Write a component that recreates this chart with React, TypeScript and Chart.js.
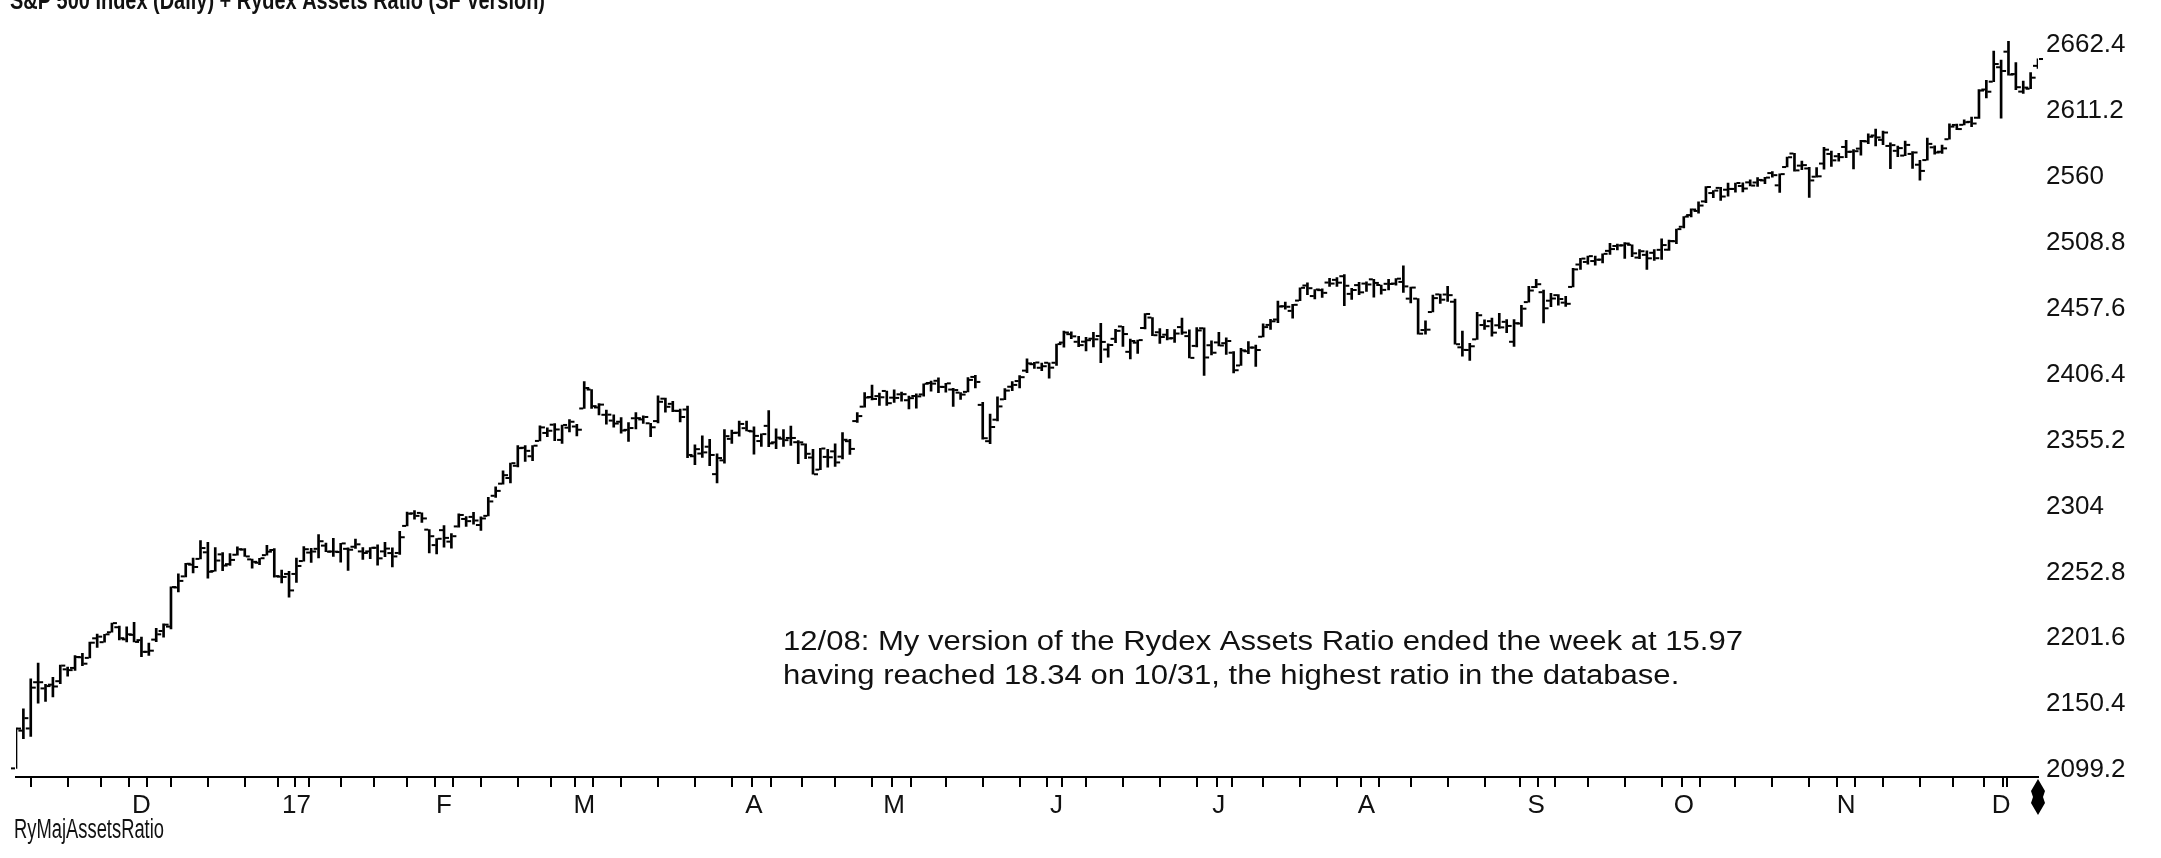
import React, { useEffect, useRef } from 'react';
import { Chart, registerables } from 'chart.js';

Chart.register(...registerables);

const dates: string[] = [
  '2016-11-07','2016-11-08','2016-11-09','2016-11-10','2016-11-11','2016-11-14','2016-11-15','2016-11-16','2016-11-17','2016-11-18','2016-11-21','2016-11-22','2016-11-23','2016-11-25','2016-11-28','2016-11-29','2016-11-30',
  '2016-12-01','2016-12-02','2016-12-05','2016-12-06','2016-12-07','2016-12-08','2016-12-09','2016-12-12','2016-12-13','2016-12-14','2016-12-15','2016-12-16','2016-12-19','2016-12-20','2016-12-21','2016-12-22','2016-12-23','2016-12-27','2016-12-28','2016-12-29','2016-12-30',
  '2017-01-03','2017-01-04','2017-01-05','2017-01-06','2017-01-09','2017-01-10','2017-01-11','2017-01-12','2017-01-13','2017-01-17','2017-01-18','2017-01-19','2017-01-20','2017-01-23','2017-01-24','2017-01-25','2017-01-26','2017-01-27','2017-01-30','2017-01-31',
  '2017-02-01','2017-02-02','2017-02-03','2017-02-06','2017-02-07','2017-02-08','2017-02-09','2017-02-10','2017-02-13','2017-02-14','2017-02-15','2017-02-16','2017-02-17','2017-02-21','2017-02-22','2017-02-23','2017-02-24','2017-02-27','2017-02-28',
  '2017-03-01','2017-03-02','2017-03-03','2017-03-06','2017-03-07','2017-03-08','2017-03-09','2017-03-10','2017-03-13','2017-03-14','2017-03-15','2017-03-16','2017-03-17','2017-03-20','2017-03-21','2017-03-22','2017-03-23','2017-03-24','2017-03-27','2017-03-28','2017-03-29','2017-03-30','2017-03-31',
  '2017-04-03','2017-04-04','2017-04-05','2017-04-06','2017-04-07','2017-04-10','2017-04-11','2017-04-12','2017-04-13','2017-04-17','2017-04-18','2017-04-19','2017-04-20','2017-04-21','2017-04-24','2017-04-25','2017-04-26','2017-04-27','2017-04-28',
  '2017-05-01','2017-05-02','2017-05-03','2017-05-04','2017-05-05','2017-05-08','2017-05-09','2017-05-10','2017-05-11','2017-05-12','2017-05-15','2017-05-16','2017-05-17','2017-05-18','2017-05-19','2017-05-22','2017-05-23','2017-05-24','2017-05-25','2017-05-26','2017-05-30','2017-05-31',
  '2017-06-01','2017-06-02','2017-06-05','2017-06-06','2017-06-07','2017-06-08','2017-06-09','2017-06-12','2017-06-13','2017-06-14','2017-06-15','2017-06-16','2017-06-19','2017-06-20','2017-06-21','2017-06-22','2017-06-23','2017-06-26','2017-06-27','2017-06-28','2017-06-29','2017-06-30',
  '2017-07-03','2017-07-05','2017-07-06','2017-07-07','2017-07-10','2017-07-11','2017-07-12','2017-07-13','2017-07-14','2017-07-17','2017-07-18','2017-07-19','2017-07-20','2017-07-21','2017-07-24','2017-07-25','2017-07-26','2017-07-27','2017-07-28','2017-07-31',
  '2017-08-01','2017-08-02','2017-08-03','2017-08-04','2017-08-07','2017-08-08','2017-08-09','2017-08-10','2017-08-11','2017-08-14','2017-08-15','2017-08-16','2017-08-17','2017-08-18','2017-08-21','2017-08-22','2017-08-23','2017-08-24','2017-08-25','2017-08-28','2017-08-29','2017-08-30','2017-08-31',
  '2017-09-01','2017-09-05','2017-09-06','2017-09-07','2017-09-08','2017-09-11','2017-09-12','2017-09-13','2017-09-14','2017-09-15','2017-09-18','2017-09-19','2017-09-20','2017-09-21','2017-09-22','2017-09-25','2017-09-26','2017-09-27','2017-09-28','2017-09-29',
  '2017-10-02','2017-10-03','2017-10-04','2017-10-05','2017-10-06','2017-10-09','2017-10-10','2017-10-11','2017-10-12','2017-10-13','2017-10-16','2017-10-17','2017-10-18','2017-10-19','2017-10-20','2017-10-23','2017-10-24','2017-10-25','2017-10-26','2017-10-27','2017-10-30','2017-10-31',
  '2017-11-01','2017-11-02','2017-11-03','2017-11-06','2017-11-07','2017-11-08','2017-11-09','2017-11-10','2017-11-13','2017-11-14','2017-11-15','2017-11-16','2017-11-17','2017-11-20','2017-11-21','2017-11-22','2017-11-24','2017-11-27','2017-11-28','2017-11-29','2017-11-30',
  '2017-12-01','2017-12-04','2017-12-05','2017-12-06','2017-12-07','2017-12-08',
];

const opens: number[] = [
  2100.6,2129.9,2131.6,2167.5,2162.7,2165.6,2168.3,2177.5,2178.6,2186.9,2186.4,2201.6,2198.6,2206.3,2210.2,2200.8,2204.3,
  2200.2,2191.1,2200.6,2207.3,2210.7,2241.1,2249.7,2258.8,2263.3,2268.4,2253.8,2266.8,2259.2,2266.5,2270.5,2262.9,2260.3,2266.2,2270.2,2249.5,2251.6,
  2251.6,2261.6,2268.2,2271.1,2273.6,2269.0,2268.6,2271.1,2272.7,2269.1,2269.1,2271.9,2269.1,2267.8,2267.9,2288.9,2298.6,2299.0,2286.0,2274.0,
  2285.6,2276.7,2288.5,2294.3,2295.9,2289.6,2296.7,2312.3,2321.7,2326.1,2335.6,2349.6,2343.0,2354.9,2361.1,2367.5,2355.7,2365.2,2366.1,
  2380.1,2394.8,2380.9,2375.2,2370.7,2369.8,2363.5,2372.5,2371.6,2368.6,2370.3,2387.7,2383.7,2378.2,2379.3,2343.0,2345.1,2350.4,2329.1,2339.8,2356.5,2361.3,2364.8,
  2362.3,2354.8,2366.6,2353.8,2356.6,2357.2,2353.9,2352.2,2342.0,2332.6,2342.5,2346.8,2342.7,2354.7,2370.3,2381.5,2389.0,2389.7,2393.7,
  2388.5,2391.1,2386.5,2389.8,2391.0,2399.9,2401.6,2396.8,2394.8,2392.4,2393.0,2404.6,2382.9,2354.7,2371.4,2387.2,2397.0,2401.4,2409.5,2414.5,2411.7,2415.6,
  2415.6,2431.3,2437.8,2431.9,2432.0,2434.3,2436.4,2425.9,2434.2,2443.8,2424.1,2431.2,2442.6,2450.7,2439.3,2437.4,2434.7,2443.3,2436.3,2428.7,2442.4,2429.2,
  2431.4,2430.8,2423.4,2413.5,2424.5,2427.4,2435.8,2445.0,2449.2,2459.5,2455.9,2463.9,2475.6,2467.4,2472.0,2477.9,2480.0,2482.8,2469.1,2475.9,
  2477.1,2480.4,2476.0,2476.9,2477.1,2478.4,2465.4,2465.4,2441.0,2455.0,2468.7,2468.6,2463.0,2427.6,2425.5,2433.8,2444.9,2447.9,2444.7,2447.4,2431.9,2446.1,2462.7,
  2474.4,2470.4,2463.8,2468.1,2462.3,2474.5,2491.9,2493.9,2494.6,2495.7,2502.5,2506.3,2506.8,2507.2,2497.3,2499.4,2501.0,2503.3,2503.4,2510.0,
  2521.2,2530.3,2533.5,2540.9,2547.4,2551.4,2550.0,2550.6,2552.9,2555.7,2555.6,2557.2,2562.9,2553.4,2567.6,2578.1,2568.7,2566.5,2560.1,2570.3,2577.8,2576.0,
  2583.2,2579.5,2581.9,2587.5,2592.1,2588.7,2584.0,2580.2,2576.5,2577.8,2569.4,2573.0,2582.9,2579.5,2589.2,2600.3,2600.4,2602.7,2605.9,2627.8,2633.9,
  2645.1,2657.2,2639.8,2626.2,2628.4,2646.2,
];

const highs: number[] = [
  2132.0,2146.9,2170.1,2182.3,2165.9,2171.4,2180.8,2179.2,2188.1,2189.9,2198.7,2204.8,2204.7,2213.4,2211.1,2210.5,2214.1,
  2202.6,2197.9,2209.4,2212.8,2241.6,2251.7,2259.8,2264.0,2277.5,2276.2,2272.1,2268.1,2267.5,2272.6,2271.2,2263.2,2263.8,2273.8,2271.3,2254.5,2253.6,
  2263.9,2272.8,2271.5,2282.1,2275.5,2279.3,2275.3,2271.8,2278.7,2272.1,2272.0,2274.3,2276.1,2271.8,2284.6,2299.6,2300.9,2299.0,2286.0,2279.1,
  2289.1,2283.0,2298.3,2296.2,2299.4,2295.9,2311.1,2319.2,2331.6,2337.6,2351.3,2351.3,2351.2,2366.7,2365.1,2368.3,2367.3,2371.5,2367.8,
  2401.0,2394.8,2383.9,2378.8,2375.1,2373.1,2369.1,2376.9,2374.4,2368.6,2390.0,2388.1,2385.7,2379.6,2381.9,2351.8,2358.9,2356.2,2344.9,2363.8,2363.4,2370.4,2370.4,
  2365.9,2360.5,2378.4,2364.2,2363.8,2366.4,2355.2,2352.7,2348.3,2349.1,2348.4,2352.6,2361.4,2356.2,2377.0,2392.5,2398.2,2392.1,2393.7,
  2394.5,2392.9,2389.8,2391.4,2399.3,2401.4,2403.9,2399.7,2395.7,2392.4,2404.1,2405.8,2384.9,2375.7,2389.1,2395.5,2400.9,2405.6,2418.7,2416.0,2415.3,2415.6,
  2430.1,2440.2,2439.6,2436.2,2435.3,2439.3,2446.2,2430.4,2441.5,2443.8,2434.0,2433.2,2453.8,2450.7,2442.2,2441.6,2441.4,2450.4,2441.2,2443.0,2442.7,2432.7,
  2439.2,2434.9,2424.3,2426.9,2432.0,2429.3,2445.8,2449.3,2463.5,2462.8,2460.9,2473.8,2477.6,2472.5,2473.1,2481.2,2481.7,2484.0,2473.5,2478.0,
  2478.5,2480.4,2476.0,2480.4,2481.0,2490.9,2474.4,2465.4,2448.1,2468.2,2468.9,2474.9,2465.0,2440.3,2430.6,2454.8,2448.9,2450.4,2454.0,2449.1,2449.2,2460.3,2475.0,
  2480.4,2472.0,2469.6,2468.6,2467.1,2489.0,2496.8,2498.4,2498.4,2500.2,2508.3,2507.8,2508.9,2507.2,2503.5,2502.5,2503.5,2511.8,2510.8,2519.4,
  2529.2,2535.1,2540.5,2552.5,2549.4,2551.8,2555.2,2555.2,2555.3,2557.7,2559.5,2559.7,2564.1,2562.4,2575.4,2578.3,2572.2,2567.4,2567.1,2583.0,2580.0,2578.3,
  2588.4,2581.1,2588.4,2593.4,2597.0,2595.5,2586.5,2583.8,2587.7,2579.7,2572.8,2590.1,2584.0,2584.6,2601.2,2600.9,2604.2,2606.4,2627.7,2634.9,2657.7,
  2650.6,2665.2,2648.7,2634.4,2641.0,2651.7,
];

const lows: number[] = [
  2100.6,2123.6,2125.4,2151.2,2152.5,2156.1,2166.4,2172.2,2176.6,2180.4,2186.4,2194.5,2198.6,2206.3,2200.4,2198.9,2198.8,
  2187.4,2188.4,2199.0,2202.5,2208.9,2237.6,2249.2,2252.4,2263.3,2248.4,2253.8,2254.2,2258.2,2266.2,2265.2,2256.1,2258.8,2266.2,2249.1,2244.6,2233.6,
  2245.1,2261.6,2260.5,2264.1,2268.8,2265.3,2260.8,2254.3,2271.5,2262.8,2263.4,2258.4,2265.0,2257.0,2266.7,2288.9,2294.1,2291.6,2268.0,2267.2,
  2272.4,2271.7,2287.9,2288.6,2290.2,2285.4,2296.6,2311.1,2321.4,2322.2,2334.8,2338.9,2339.6,2354.9,2358.3,2355.1,2352.9,2361.9,2358.7,
  2380.1,2380.2,2375.1,2368.0,2365.5,2361.0,2354.5,2364.2,2368.5,2358.2,2368.9,2377.2,2377.6,2369.7,2341.9,2336.5,2342.1,2335.7,2322.3,2337.6,2352.9,2358.6,2362.6,
  2344.7,2350.7,2350.5,2348.9,2350.7,2351.5,2337.3,2341.2,2329.0,2332.5,2334.5,2335.1,2340.9,2344.5,2369.2,2381.2,2386.8,2382.4,2382.4,
  2384.8,2385.8,2379.8,2380.4,2389.6,2393.6,2392.4,2392.8,2381.7,2387.2,2393.0,2396.1,2356.2,2352.7,2370.4,2386.9,2393.9,2396.1,2408.0,2411.3,2409.4,2403.6,
  2413.5,2427.7,2434.3,2428.1,2424.8,2427.9,2415.7,2420.0,2431.3,2428.3,2418.5,2422.9,2441.8,2436.6,2430.7,2433.3,2431.4,2437.6,2419.4,2428.0,2405.7,2421.6,
  2428.7,2422.1,2407.7,2413.5,2422.7,2412.8,2435.6,2441.4,2446.7,2457.2,2450.3,2463.9,2468.4,2465.1,2466.3,2474.9,2474.9,2459.9,2464.7,2468.5,
  2471.1,2466.5,2468.9,2472.1,2475.9,2470.3,2462.1,2437.8,2437.9,2455.0,2461.6,2463.2,2430.0,2420.7,2417.4,2433.7,2441.4,2436.2,2442.2,2439.0,2428.2,2443.8,2462.7,
  2473.9,2446.6,2459.2,2460.3,2459.4,2474.5,2488.1,2492.1,2491.4,2493.2,2499.8,2503.2,2496.7,2497.9,2496.5,2488.0,2495.1,2495.9,2502.9,2508.0,
  2520.4,2528.9,2531.8,2540.0,2543.8,2541.6,2544.9,2548.0,2548.3,2553.0,2552.6,2554.7,2559.7,2547.9,2567.6,2564.3,2565.6,2544.0,2559.8,2565.9,2568.1,2572.2,
  2574.9,2566.2,2576.8,2585.7,2584.1,2585.0,2566.3,2575.6,2576.5,2566.6,2557.4,2573.0,2577.6,2578.2,2589.2,2596.6,2600.4,2598.9,2605.4,2621.3,2633.9,
  2605.5,2639.0,2627.7,2624.8,2628.4,2644.1,
];

const closes: number[] = [
  2131.5,2139.6,2163.3,2167.5,2164.5,2164.2,2180.4,2176.9,2187.1,2181.9,2198.2,2202.9,2204.7,2213.4,2201.7,2204.7,2198.8,
  2191.1,2192.0,2204.7,2212.2,2241.4,2246.2,2259.5,2257.0,2271.7,2253.3,2262.0,2258.1,2262.5,2270.8,2265.2,2261.0,2263.8,2268.9,2249.9,2249.3,2238.8,
  2257.8,2270.8,2269.0,2277.0,2268.9,2268.9,2275.3,2270.4,2274.6,2267.9,2271.9,2263.7,2271.3,2265.2,2280.1,2298.4,2296.7,2294.7,2280.9,2278.9,
  2279.6,2280.9,2297.4,2292.6,2293.1,2294.7,2307.9,2316.1,2328.3,2337.6,2349.3,2347.2,2351.2,2365.4,2362.8,2363.8,2367.3,2369.8,2363.6,
  2396.0,2381.9,2383.1,2375.3,2368.4,2363.0,2364.9,2372.6,2373.5,2365.5,2385.3,2381.4,2378.3,2373.5,2344.0,2348.5,2346.0,2344.0,2341.6,2358.6,2361.1,2368.1,2362.7,
  2358.8,2360.2,2353.0,2357.5,2355.5,2357.2,2353.8,2344.9,2329.0,2349.0,2342.2,2338.2,2355.8,2348.7,2374.2,2388.6,2387.5,2388.8,2384.2,
  2388.3,2391.2,2388.1,2389.5,2399.3,2399.4,2396.9,2399.6,2394.4,2390.9,2402.3,2400.7,2357.0,2365.7,2381.7,2394.0,2398.4,2404.4,2415.1,2415.8,2412.9,2411.8,
  2430.1,2439.1,2436.1,2429.3,2433.1,2433.8,2431.8,2429.4,2440.4,2437.9,2432.5,2433.2,2453.5,2437.0,2435.6,2434.5,2438.3,2439.1,2419.4,2440.7,2419.7,2423.4,
  2429.0,2432.5,2409.8,2425.2,2427.4,2425.5,2443.3,2447.8,2459.3,2459.1,2460.6,2473.8,2473.5,2472.5,2469.9,2477.1,2477.8,2475.4,2472.1,2470.3,
  2476.4,2477.6,2472.2,2476.8,2480.9,2474.9,2474.0,2438.2,2441.3,2465.8,2464.6,2468.1,2430.0,2425.6,2428.4,2452.5,2444.0,2439.0,2443.1,2444.2,2446.3,2457.6,2471.7,
  2476.6,2457.9,2465.5,2465.1,2461.4,2488.1,2496.5,2498.4,2495.6,2500.2,2503.9,2506.7,2508.2,2500.6,2502.2,2496.7,2496.8,2507.0,2510.1,2519.4,
  2529.1,2534.6,2537.7,2552.1,2549.3,2544.7,2550.6,2555.2,2550.9,2553.2,2557.6,2559.4,2561.3,2562.1,2575.2,2565.0,2569.1,2557.2,2560.4,2581.1,2572.8,2575.3,
  2579.4,2579.9,2587.8,2591.1,2590.6,2594.4,2584.6,2582.3,2584.8,2578.9,2564.6,2585.6,2578.9,2582.1,2599.0,2597.1,2602.4,2601.4,2627.0,2626.1,2647.6,
  2642.2,2639.4,2629.6,2629.3,2637.0,2651.5,
];

const monthLabels: string[] = ['D', '17', 'F', 'M', 'A', 'M', 'J', 'J', 'A', 'S', 'O', 'N', 'D'];
const yTickValues: number[] = [2099.2, 2150.4, 2201.6, 2252.8, 2304, 2355.2, 2406.4, 2457.6, 2508.8, 2560, 2611.2, 2662.4];
const yTickLabels: string[] = ['2099.2', '2150.4', '2201.6', '2252.8', '2304', '2355.2', '2406.4', '2457.6', '2508.8', '2560', '2611.2', '2662.4'];
const yMin = 2093.9;
const yMax = 2679.0;
const titleText = 'S&P 500 Index (Daily) + Rydex Assets Ratio (SF Version)';
const noteLines: string[] = [
  '12/08: My version of the Rydex Assets Ratio ended the week at 15.97',
  'having reached 18.34 on 10/31, the highest ratio in the database.',
];
const indicatorName = 'RyMajAssetsRatio';

const FONT = '"Liberation Sans", Arial, sans-serif';

function dayOfWeek(d: string): number {
  return new Date(d + 'T00:00:00Z').getUTCDay();
}

const monthStarts: number[] = [];
const weekStarts: number[] = [];
for (let i = 1; i < dates.length; i++) {
  if (dates[i].slice(0, 7) !== dates[i - 1].slice(0, 7)) monthStarts.push(i);
  if (dayOfWeek(dates[i]) <= dayOfWeek(dates[i - 1])) weekStarts.push(i);
}

function drawScaled(ctx: CanvasRenderingContext2D, text: string, x: number, y: number, sx: number) {
  ctx.save();
  ctx.translate(x, y);
  ctx.scale(sx, 1);
  ctx.fillText(text, 0, 0);
  ctx.restore();
}

const ohlcTicks = {
  id: 'ohlcTicks',
  afterDatasetsDraw(chart: any) {
    const { ctx, chartArea } = chart;
    const xs = chart.scales.x;
    const ys = chart.scales.y;
    ctx.save();
    ctx.beginPath();
    ctx.rect(chartArea.left - 6, chartArea.top, chartArea.right - chartArea.left + 12, chartArea.bottom - chartArea.top);
    ctx.clip();
    ctx.fillStyle = '#000';
    for (let i = 0; i < dates.length; i++) {
      const px = xs.getPixelForValue(i);
      const yo = ys.getPixelForValue(opens[i]);
      const yc = ys.getPixelForValue(closes[i]);
      ctx.fillRect(px - 5, yo - 1, 4, 2);
      ctx.fillRect(px + 1, yc - 1, 4, 2);
    }
    ctx.restore();
  },
};

const textOverlay = {
  id: 'textOverlay',
  afterDraw(chart: any) {
    const { ctx } = chart;
    const xs = chart.scales.x;
    ctx.save();
    ctx.fillStyle = '#111';

    // title (cut off at top edge)
    ctx.font = `bold 25px ${FONT}`;
    ctx.textBaseline = 'alphabetic';
    ctx.textAlign = 'left';
    const tw = ctx.measureText(titleText).width;
    drawScaled(ctx, titleText, 10, 9, 535 / tw);

    // annotation
    ctx.font = `27px ${FONT}`;
    ctx.textBaseline = 'middle';
    const w1 = ctx.measureText(noteLines[0]).width;
    const sx = 960 / w1;
    drawScaled(ctx, noteLines[0], 783, 643, sx);
    drawScaled(ctx, noteLines[1], 783, 677, sx);

    // indicator name
    ctx.font = `27px ${FONT}`;
    const iw = ctx.measureText(indicatorName).width;
    drawScaled(ctx, indicatorName, 14, 831, 150 / iw);

    // current-bar diamond marker
    const dx = xs.getPixelForValue(dates.length - 1);
    ctx.fillStyle = '#000';
    ctx.beginPath();
    ctx.moveTo(dx, 779);
    ctx.lineTo(dx + 7, 791);
    ctx.lineTo(dx + 5, 797);
    ctx.lineTo(dx + 7, 803);
    ctx.lineTo(dx, 815);
    ctx.lineTo(dx - 7, 803);
    ctx.lineTo(dx - 5, 797);
    ctx.lineTo(dx - 7, 791);
    ctx.closePath();
    ctx.fill();
    ctx.restore();
  },
};

export default function App() {
  const canvasRef = useRef<HTMLCanvasElement | null>(null);

  useEffect(() => {
    document.body.style.margin = '0';
    document.body.style.background = '#fff';
    const canvas = canvasRef.current;
    if (!canvas) return;

    const tickValues = [
      ...weekStarts.map((i) => i - 0.5),
      ...monthStarts,
    ].sort((a, b) => a - b);

    const chart = new Chart(canvas, {
      type: 'bar',
      data: {
        datasets: [
          {
            data: dates.map((_, i) => ({ x: i, y: [lows[i], highs[i]] })) as any,
            backgroundColor: '#000',
            borderWidth: 0,
            barThickness: 2,
            grouped: false,
          } as any,
        ],
      },
      options: {
        animation: false,
        responsive: false,
        devicePixelRatio: 1,
        maintainAspectRatio: false,
        layout: { padding: { left: 16, right: 0, top: 0, bottom: 0 } },
        plugins: {
          legend: { display: false },
          tooltip: { enabled: false },
          title: { display: false },
        },
        scales: {
          x: {
            type: 'linear',
            min: 0,
            max: dates.length - 1,
            offset: false,
            afterBuildTicks: (scale: any) => {
              scale.ticks = tickValues.map((v) => ({ value: v }));
            },
            afterFit: (scale: any) => {
              scale.height = 81;
            },
            grid: {
              drawOnChartArea: false,
              drawTicks: true,
              tickLength: 10,
              color: '#000',
              lineWidth: 2,
            },
            border: { display: true, color: '#000', width: 2 },
            ticks: {
              autoSkip: false,
              maxRotation: 0,
              minRotation: 0,
              padding: 3,
              color: '#111',
              font: { family: FONT, size: 26 },
              callback: (value: any) => {
                const k = monthStarts.indexOf(Number(value));
                return k >= 0 ? monthLabels[k] : '';
              },
            },
          },
          y: {
            type: 'linear',
            position: 'right',
            min: yMin,
            max: yMax,
            afterBuildTicks: (scale: any) => {
              scale.ticks = yTickValues.map((v) => ({ value: v }));
            },
            afterFit: (scale: any) => {
              scale.width = 123;
            },
            grid: { display: false, drawTicks: false },
            border: { display: false },
            ticks: {
              autoSkip: false,
              padding: 8,
              color: '#111',
              font: { family: FONT, size: 26 },
              callback: (value: any) => {
                const k = yTickValues.indexOf(Number(value));
                return k >= 0 ? yTickLabels[k] : '';
              },
            },
          },
        },
      } as any,
      plugins: [ohlcTicks, textOverlay],
    });

    return () => chart.destroy();
  }, []);

  return (
    <div style={{ position: 'relative', width: 2161, height: 858, background: '#fff' }}>
      <canvas ref={canvasRef} width={2161} height={858} style={{ display: 'block' }} />
    </div>
  );
}
